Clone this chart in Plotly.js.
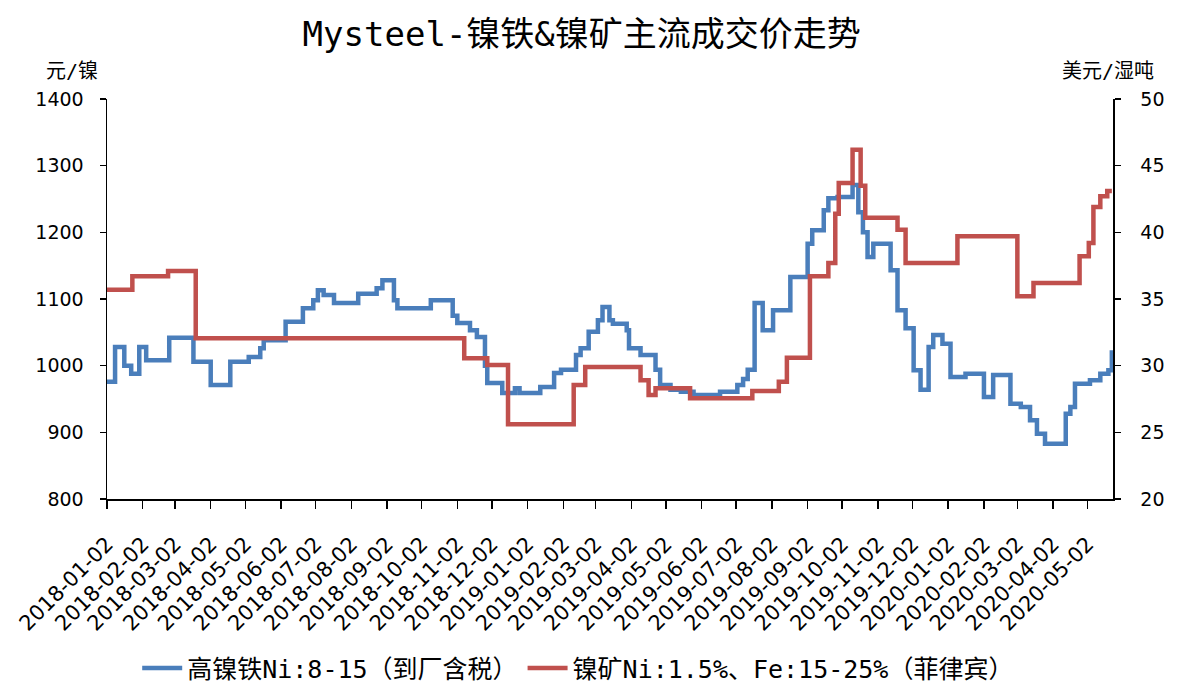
<!DOCTYPE html>
<html>
<head>
<meta charset="utf-8">
<script src="https://cdn.plot.ly/plotly-3.0.1.min.js"></script>
<style>html,body{margin:0;padding:0;background:#fff;}#chart{width:1180px;height:686px;}</style>
</head>
<body>
<div id="chart"></div>
<script>
// 高镍铁Ni:8-15（到厂含税）, 元/镍
const nfDates = ['2018-01-02','2018-01-09','2018-01-17','2018-01-23','2018-01-30','2018-02-05','2018-02-25','2018-03-18','2018-04-02','2018-04-19','2018-05-05','2018-05-15','2018-05-18','2018-06-06','2018-06-21','2018-06-30','2018-07-04','2018-07-09','2018-07-18','2018-08-08','2018-08-24','2018-08-29','2018-09-08','2018-09-11','2018-10-10','2018-10-29','2018-11-02','2018-11-13','2018-11-19','2018-11-26','2018-11-28','2018-12-11','2018-12-22','2018-12-26','2019-01-13','2019-01-25','2019-01-31','2019-02-13','2019-02-17','2019-02-24','2019-03-04','2019-03-08','2019-03-14','2019-03-17','2019-03-29','2019-03-31','2019-04-10','2019-04-23','2019-04-27','2019-05-06','2019-05-15','2019-05-26','2019-06-18','2019-07-03','2019-07-08','2019-07-12','2019-07-18','2019-07-25','2019-08-03','2019-08-18','2019-09-02','2019-09-06','2019-09-16','2019-09-20','2019-09-28','2019-10-11','2019-10-16','2019-10-20','2019-10-24','2019-10-29','2019-11-13','2019-11-19','2019-11-26','2019-12-03','2019-12-09','2019-12-16','2019-12-20','2019-12-28','2020-01-04','2020-01-17','2020-02-02','2020-02-10','2020-02-25','2020-03-05','2020-03-13','2020-03-19','2020-03-26','2020-04-13','2020-04-17','2020-04-21','2020-05-04','2020-05-13','2020-05-20','2020-05-23'];
const nfValues = [976,1028,1000,988,1028,1008,1042,1006,971,1006,1013,1026,1038,1066,1086,1098,1113,1106,1094,1108,1116,1128,1098,1086,1098,1075,1064,1053,1043,1000,974,959,966,959,968,989,994,1016,1026,1051,1068,1088,1068,1063,1053,1026,1016,994,971,964,961,956,961,971,980,994,1094,1053,1083,1133,1183,1203,1233,1251,1253,1271,1230,1200,1163,1183,1143,1083,1056,993,964,1028,1046,1033,983,988,953,986,943,938,918,898,883,928,938,973,978,988,993,1023];

// 镍矿Ni:1.5%、Fe:15-25%（菲律宾）, 美元/湿吨
const oreDates = ['2018-01-02','2018-01-24','2018-02-24','2018-03-20','2018-11-08','2018-11-28','2018-12-16','2019-02-11','2019-02-21','2019-04-10','2019-04-17','2019-04-23','2019-05-23','2019-07-16','2019-08-08','2019-08-15','2019-09-04','2019-09-20','2019-09-26','2019-09-29','2019-10-11','2019-10-18','2019-10-22','2019-11-19','2019-11-26','2020-01-10','2020-03-02','2020-03-16','2020-04-25','2020-05-03','2020-05-07','2020-05-13','2020-05-19','2020-05-23'];
const oreValues = [35.7,36.7,37.1,32.05,30.55,30.05,25.6,28.55,29.9,28.9,27.8,28.3,27.55,28.1,28.8,30.6,36.7,37.7,41.4,43.7,46.2,43.5,41.1,40.2,37.7,39.7,35.2,36.2,38.2,39.2,41.9,42.7,43.1,43.1];

const tickDates = ['2018-01-02','2018-02-02','2018-03-02','2018-04-02','2018-05-02','2018-06-02','2018-07-02','2018-08-02','2018-09-02','2018-10-02','2018-11-02','2018-12-02','2019-01-02','2019-02-02','2019-03-02','2019-04-02','2019-05-02','2019-06-02','2019-07-02','2019-08-02','2019-09-02','2019-10-02','2019-11-02','2019-12-02','2020-01-02','2020-02-02','2020-03-02','2020-04-02','2020-05-02'];

const seriesNames = ['高镍铁Ni:8-15（到厂含税）','镍矿Ni:1.5%、Fe:15-25%（菲律宾）'];
const titleText = 'Mysteel-镍铁&镍矿主流成交价走势';
const leftUnit = '元/镍';
const rightUnit = '美元/湿吨';

const cjk = '"DejaVu Sans Mono", "Noto Sans CJK SC", sans-serif';
const lat = '"DejaVu Sans", "Liberation Sans", sans-serif';

const traces = [
  {x: nfDates, y: nfValues, name: seriesNames[0], type: 'scatter', mode: 'lines',
   line: {color: '#4a7ebb', width: 4.5, shape: 'hv'}, yaxis: 'y', hoverinfo: 'skip'},
  {x: oreDates, y: oreValues, name: seriesNames[1], type: 'scatter', mode: 'lines',
   line: {color: '#c0504d', width: 4.5, shape: 'hv'}, yaxis: 'y2', hoverinfo: 'skip'}
];

const layout = {
  width: 1180, height: 686,
  paper_bgcolor: '#fff', plot_bgcolor: '#fff',
  margin: {l: 107, r: 67, t: 99, b: 187},
  title: {text: titleText, x: 0.493, xanchor: 'center', y: 0.95, yanchor: 'middle',
          font: {family: cjk, size: 34, color: '#000'}},
  showlegend: true,
  legend: {orientation: 'h', x: 0.49, xanchor: 'center', xref: 'container', yref: 'container',
           y: 0.026, yanchor: 'middle',
           font: {family: cjk, size: 25, color: '#000'}, itemwidth: 40},
  xaxis: {type: 'date', range: ['2018-01-02', '2020-05-24'], automargin: false,
          tickmode: 'array', tickvals: tickDates, ticktext: tickDates,
          tickangle: -45, ticks: 'outside', ticklen: 8, tickcolor: '#000', tickwidth: 1.5,
          ticklabelstandoff: 15,
          showline: true, linecolor: '#000', linewidth: 1.5, showgrid: false, zeroline: false,
          tickfont: {family: lat, size: 21, color: '#000'}},
  yaxis: {range: [800, 1400], dtick: 100, ticks: 'outside', ticklen: 6, tickcolor: '#000', tickwidth: 1.5,
          automargin: false, ticklabelstandoff: 12,
          showline: true, linecolor: '#000', linewidth: 1.5, showgrid: false, zeroline: false,
          tickfont: {family: lat, size: 19, color: '#000'}},
  yaxis2: {range: [20, 50], dtick: 5, overlaying: 'y', side: 'right', ticks: 'outside', ticklen: 6,
           automargin: false, ticklabelstandoff: 16,
           tickcolor: '#000', tickwidth: 1.5, showline: true, linecolor: '#000', linewidth: 1.5,
           showgrid: false, zeroline: false, tickfont: {family: lat, size: 19, color: '#000'}},
  annotations: [
    {text: leftUnit, xref: 'paper', yref: 'paper', x: -0.035, y: 1.07, xanchor: 'center', yanchor: 'middle',
     showarrow: false, font: {family: cjk, size: 20, color: '#000'}},
    {text: rightUnit, xref: 'paper', yref: 'paper', x: 0.995, y: 1.07, xanchor: 'center', yanchor: 'middle',
     showarrow: false, font: {family: cjk, size: 20, color: '#000'}}
  ]
};

Plotly.newPlot('chart', traces, layout, {displayModeBar: false, staticPlot: true});
</script>
</body>
</html>
